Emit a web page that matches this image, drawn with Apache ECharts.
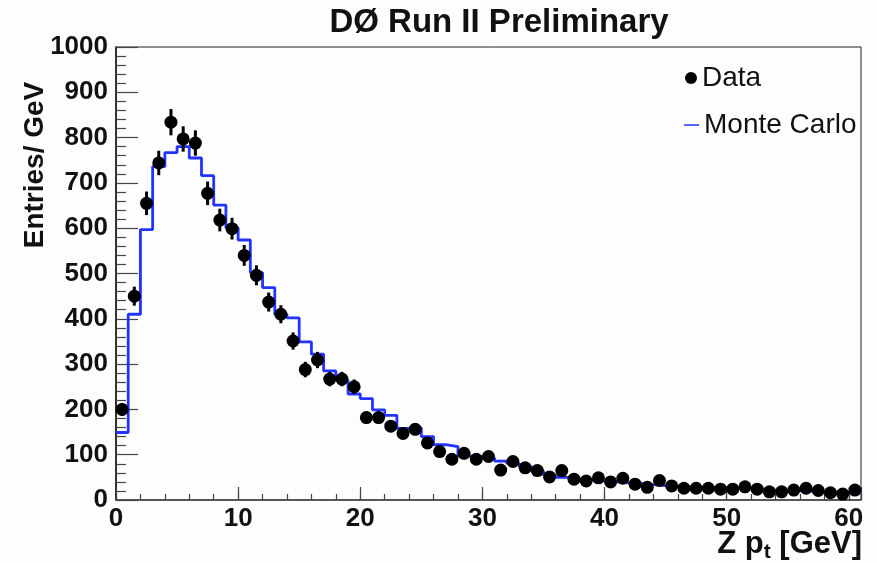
<!DOCTYPE html>
<html><head><meta charset="utf-8">
<script src="https://cdn.jsdelivr.net/npm/echarts@6/dist/echarts.min.js"></script>
<style>html,body{margin:0;padding:0;background:#fff}#c{width:877px;height:563px}</style>
</head><body><div id="c"></div>
<script>
// Data histogram (1 GeV bins starting at 0)
const dataValues = [200,450,655,744,834,797,788,677,618,599,540,496,437,410,351,288,309,267,267,250,
  182,182,163,147,156,126,107,90,103,90,96,66,85,71,65,51,65,46,42,49,
  40,48,35,28,43,31,26,26,26,24,24,29,24,18,18,22,26,21,16,13,22];
const dataErrors = [14,21,26,27,29,28,28,26,25,24,23,22,21,20,19,17,18,16,16,16,
  13,13,13,12,12,11,10,9,10,9,10,8,9,8,8,7,8,7,6,7,
  6,7,6,5,7,6,5,5,5,5,5,5,5,4,4,5,5,5,4,4,5];
const mcValues = [149,410,597,736,767,780,755,716,651,601,574,502,469,410,402,349,322,285,264,234,
  224,199,187,158,159,140,122,118,97,96,92,86,81,74,64,55,50,46,44,42,
  40,38,36,34,32,31,29,28,27,26,25,24,23,22,21,20,19,18,18,17,16];
const xTickLabels = ['0','10','20','30','40','50','60'];
const yTickLabels = ['0','100','200','300','400','500','600','700','800','900','1000'];
const binStart = 0, binWidth = 1, xMax = 61;

const FONT = '"Liberation Sans", Arial, Helvetica, sans-serif';
const dataPts = dataValues.map((v, i) => [binStart + (i + 0.5) * binWidth, v]);
const errPts = dataValues.map((v, i) => [binStart + (i + 0.5) * binWidth, v - dataErrors[i], v + dataErrors[i]]);
const mcPts = mcValues.map((v, i) => [binStart + i * binWidth, v]);
mcPts.push([binStart + mcValues.length * binWidth, mcValues[mcValues.length - 1]]);

const chart = echarts.init(document.getElementById('c'), null, {renderer: 'canvas'});
const axisColor = '#444';
chart.setOption({
  animation: false,
  backgroundColor: '#fdfdfd',
  grid: {left: 116, top: 47, right: 16, bottom: 63, show: true, borderColor: '#222', borderWidth: 1, backgroundColor: 'transparent'},
  graphic: [
    {type: 'text', x: 499, y: 23, style: {text: 'DØ Run II Preliminary', font: 'bold 33px ' + FONT, fill: '#111', textAlign: 'center', textVerticalAlign: 'middle'}},
    {type: 'text', x: 35, y: 165, rotation: Math.PI / 2, style: {text: 'Entries/ GeV', font: 'bold 28px ' + FONT, fill: '#111', textAlign: 'center', textVerticalAlign: 'middle'}},
    {type: 'text', right: 15, top: 529, style: {
      text: '{n|Z p}{s|t}{n| [GeV]}', fill: '#111',
      rich: {n: {fontFamily: FONT, fontWeight: 'bold', fontSize: 31, lineHeight: 33, verticalAlign: 'top'},
             s: {fontFamily: FONT, fontWeight: 'bold', fontSize: 21, lineHeight: 33, padding: [13, 0, 0, 0], verticalAlign: 'top'}}}}
  ],
  legend: [
    {data: [{name: 'Data', icon: 'circle', itemStyle: {color: '#000'}}], orient: 'vertical', left: 680, top: 59, itemWidth: 12, itemHeight: 12,
     textStyle: {fontFamily: FONT, fontSize: 28, color: '#111'}},
    {data: [{name: 'Monte Carlo', icon: 'rect'}], orient: 'vertical', left: 679, top: 106, itemWidth: 15, itemHeight: 1.5,
     textStyle: {fontFamily: FONT, fontSize: 28, color: '#111'}}
  ],
  xAxis: [
    {type: 'value', min: 0, max: xMax, interval: 10, position: 'bottom',
     axisLine: {show: true, onZero: false, lineStyle: {color: axisColor, width: 1.5}},
     axisTick: {show: true, inside: true, length: 13, lineStyle: {color: axisColor, width: 1.2}},
     axisLabel: {margin: 6, fontFamily: FONT, fontWeight: 'bold', fontSize: 26, color: '#111',
       formatter: v => { const i = xTickLabels.indexOf(String(v)); return i >= 0 ? xTickLabels[i] : ''; }},
     splitLine: {show: false}},
    {type: 'value', min: 0, max: xMax, interval: 2, position: 'bottom',
     axisLine: {show: false, onZero: false},
     axisTick: {show: true, inside: true, length: 6, lineStyle: {color: axisColor, width: 1.2}},
     axisLabel: {show: false}, splitLine: {show: false}}
  ],
  yAxis: {type: 'value', min: 0, max: 1000, interval: 100,
    axisLine: {show: true, lineStyle: {color: '#111', width: 1.5}},
    axisTick: {show: true, inside: true, length: 22, lineStyle: {color: axisColor, width: 1.2}},
    minorTick: {show: true, splitNumber: 5, length: 10, lineStyle: {color: axisColor, width: 1.2}},
    axisLabel: {margin: 8, fontFamily: FONT, fontWeight: 'bold', fontSize: 26, color: '#111',
      formatter: v => { const i = yTickLabels.indexOf(String(v)); return i >= 0 ? yTickLabels[i] : ''; }},
    splitLine: {show: false}, minorSplitLine: {show: false}},
  series: [
    {name: 'Monte Carlo', type: 'line', xAxisIndex: 0, step: 'end', data: mcPts, showSymbol: false, symbol: 'none',
     lineStyle: {color: '#2233ff', width: 2.8}, itemStyle: {color: '#2233ff'}, z: 2},
    {name: 'Data', type: 'custom', xAxisIndex: 0, data: errPts, encode: {x: 0, y: [1, 2]}, z: 3,
     itemStyle: {color: '#000'},
     renderItem: (params, api) => {
       const x = api.value(0);
       const a = api.coord([x, api.value(1)]), b = api.coord([x, api.value(2)]);
       return {type: 'line', shape: {x1: a[0], y1: a[1], x2: b[0], y2: b[1]}, style: {stroke: '#000', lineWidth: 3}};
     }},
    {name: 'Data', type: 'scatter', xAxisIndex: 0, data: dataPts, symbol: 'circle', symbolSize: 13,
     itemStyle: {color: '#000', opacity: 1}, z: 4}
  ]
});
</script></body></html>
